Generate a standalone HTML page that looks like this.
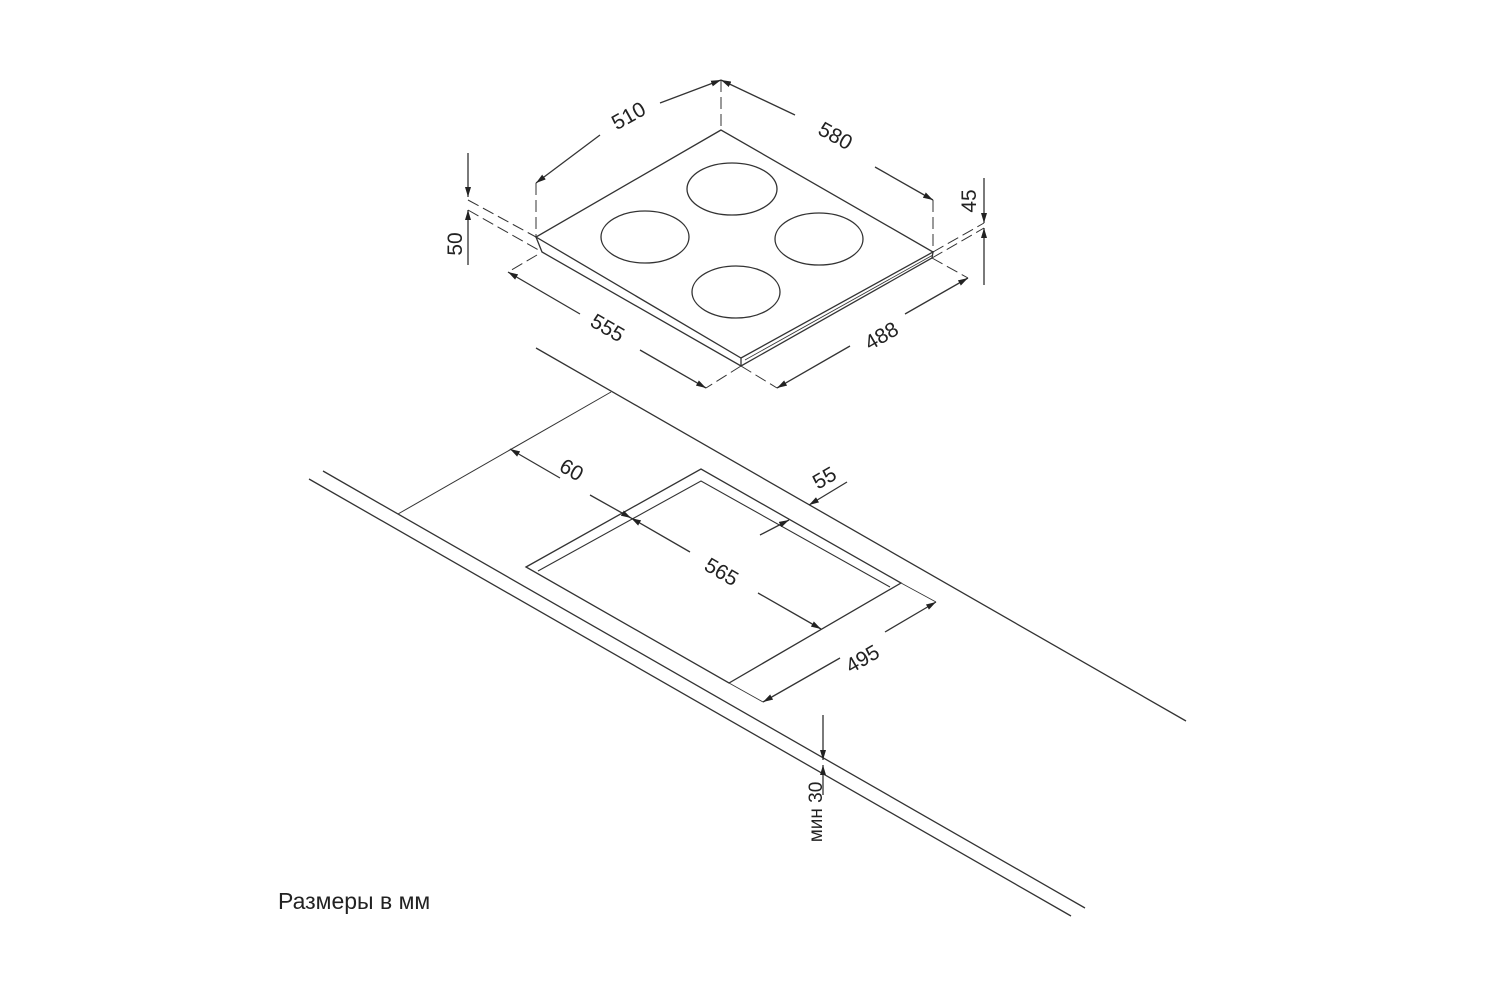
<!DOCTYPE html>
<html><head><meta charset="utf-8"><style>
html,body{margin:0;padding:0;background:#fff;width:1500px;height:1000px;overflow:hidden}
svg{display:block}
text{font-family:"Liberation Sans","DejaVu Sans",sans-serif;fill:#222}
</style></head><body>
<svg width="1500" height="1000" viewBox="0 0 1500 1000" xmlns="http://www.w3.org/2000/svg">
<defs>
<marker id="a" viewBox="0 0 10 6" refX="10" refY="3" markerWidth="10" markerHeight="6" markerUnits="userSpaceOnUse" orient="auto"><path d="M0,0 L10,3 L0,6 z" fill="#222"/></marker>
</defs>
<g stroke="#333" stroke-width="1.3" fill="none">
<path d="M721,130 L536,237 L741,358 L933,252 Z"/>
<path d="M536,237 L542,252 L741,366 L932,258 L933,252"/>
<line x1="741" y1="358" x2="741" y2="366"/>
<line x1="745" y1="360" x2="933" y2="255" stroke-width="0.8"/>
<ellipse cx="732" cy="189" rx="45" ry="26"/>
<ellipse cx="645" cy="237" rx="44" ry="26"/>
<ellipse cx="819" cy="239" rx="44" ry="26"/>
<ellipse cx="736" cy="292" rx="44" ry="26"/>
<g stroke-dasharray="12,5" stroke-width="1">
<line x1="721" y1="80" x2="721" y2="130"/>
<line x1="536" y1="183" x2="536" y2="237"/>
<line x1="933" y1="200" x2="933" y2="252"/>
<line x1="468" y1="200" x2="536" y2="237"/>
<line x1="468" y1="210" x2="542" y2="252"/>
<line x1="933" y1="252" x2="984" y2="223"/>
<line x1="932" y1="258" x2="984" y2="228"/>
<line x1="537" y1="255" x2="508" y2="272"/>
<line x1="741" y1="366" x2="706" y2="388"/>
<line x1="741" y1="366" x2="777" y2="388"/>
<line x1="932" y1="258" x2="968" y2="278"/>
</g>
<line x1="600" y1="135" x2="536" y2="183" marker-end="url(#a)"/>
<line x1="660" y1="103" x2="721" y2="80" marker-end="url(#a)"/>
<line x1="795" y1="115" x2="721" y2="80" marker-end="url(#a)"/>
<line x1="875" y1="167" x2="933" y2="200" marker-end="url(#a)"/>
<line x1="468" y1="153" x2="468" y2="197" marker-end="url(#a)"/>
<line x1="468" y1="265" x2="468" y2="210" marker-end="url(#a)"/>
<line x1="984" y1="178" x2="984" y2="223" marker-end="url(#a)"/>
<line x1="984" y1="285" x2="984" y2="228" marker-end="url(#a)"/>
<line x1="580" y1="314" x2="508" y2="272" marker-end="url(#a)"/>
<line x1="640" y1="350" x2="706" y2="388" marker-end="url(#a)"/>
<line x1="850" y1="346" x2="777" y2="388" marker-end="url(#a)"/>
<line x1="905" y1="314" x2="968" y2="278" marker-end="url(#a)"/>
<line x1="536" y1="348" x2="1186" y2="721"/>
<line x1="323" y1="471" x2="1085" y2="908"/>
<line x1="309" y1="479" x2="1071" y2="916"/>
<line x1="611" y1="392" x2="398" y2="514" stroke-width="1"/>
<path d="M526,567 L701,469 L901,583 L729,683 Z"/>
<path d="M538,571 L701,481 L890,587" stroke-width="1.1"/>
<line x1="560" y1="478" x2="510" y2="449" marker-end="url(#a)"/>
<line x1="590" y1="495" x2="631" y2="518" marker-end="url(#a)"/>
<line x1="690" y1="552" x2="631" y2="518" marker-end="url(#a)"/>
<line x1="758" y1="593" x2="821" y2="629" marker-end="url(#a)"/>
<line x1="760" y1="535" x2="789" y2="520" marker-end="url(#a)"/>
<line x1="847" y1="482" x2="809" y2="505" marker-end="url(#a)"/>
<line x1="729" y1="683" x2="763" y2="702" stroke-width="0.8"/>
<line x1="901" y1="583" x2="936" y2="602" stroke-width="0.8"/>
<line x1="840" y1="658" x2="763" y2="702" marker-end="url(#a)"/>
<line x1="885" y1="632" x2="936" y2="602" marker-end="url(#a)"/>
<line x1="823" y1="715" x2="823" y2="760" marker-end="url(#a)"/>
<line x1="823" y1="795" x2="823" y2="765" marker-end="url(#a)"/>
</g>
<g font-size="21">
<text transform="translate(632,122) rotate(-29)" text-anchor="middle">510</text>
<text transform="translate(832,142) rotate(29)" text-anchor="middle">580</text>
<text transform="translate(462,244) rotate(-90)" text-anchor="middle">50</text>
<text transform="translate(976,201) rotate(-90)" text-anchor="middle">45</text>
<text transform="translate(604,334) rotate(30)" text-anchor="middle">555</text>
<text transform="translate(885,342) rotate(-30)" text-anchor="middle">488</text>
<text transform="translate(568,476) rotate(30)" text-anchor="middle">60</text>
<text transform="translate(828,484) rotate(-30)" text-anchor="middle">55</text>
<text transform="translate(718,578) rotate(30)" text-anchor="middle">565</text>
<text transform="translate(866,665) rotate(-30)" text-anchor="middle">495</text>
<text transform="translate(822,812) rotate(-90)" text-anchor="middle" font-size="19">мин 30</text>
<text x="278" y="909" font-size="23">Размеры в мм</text>
</g>
</svg>
</body></html>
